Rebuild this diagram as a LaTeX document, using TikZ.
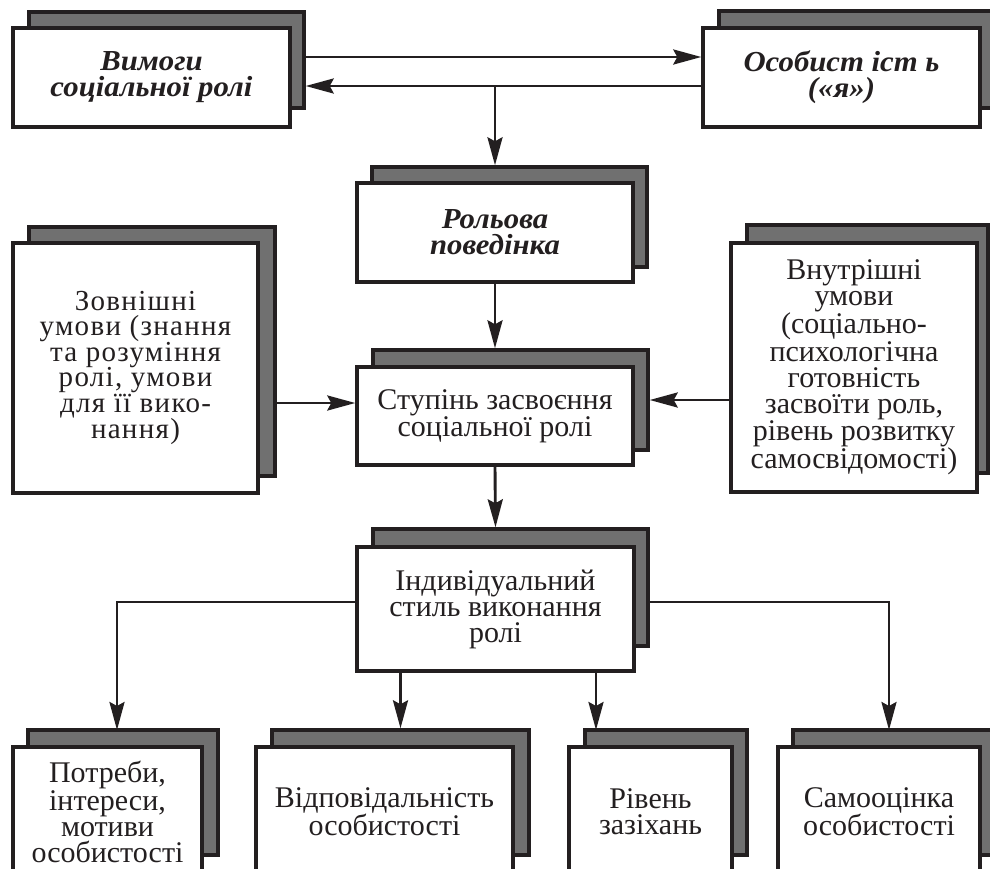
\documentclass[tikz,border=0pt]{standalone}
\usepackage{fontspec}
\setmainfont{Liberation Serif}
\newfontfamily\spacedfont[LetterSpace=4.5]{Liberation Serif}
\newfontfamily\widefont[FakeStretch=1.06]{Liberation Serif}
\usetikzlibrary{arrows.meta}
\definecolor{ink}{HTML}{231F20}
\definecolor{plategray}{RGB}{112,112,112}

\tikzset{
  card/.style={draw=ink, line width=3.4pt, fill=white, inner sep=0pt,
    align=center, text=ink, font=\fontsize{30}{26}\selectfont},
  slanted/.style={card, font=\fontsize{29}{26}\selectfont\widefont\bfseries\itshape},
  tracked/.style={card, font=\fontsize{29}{25.5}\selectfont\spacedfont},
  backplate/.style={draw=ink, line width=3.4pt, fill=plategray, inner sep=0pt},
  link/.style={draw=ink, line width=2.9pt,
    -{Stealth[length=28pt, width=15pt, inset=4pt]}},
}

\begin{document}
\begin{tikzpicture}[x=1pt, y=-1pt]
\clip (0,0) rectangle (990,868);
\fill[white] (0,0) rectangle (990,868);

% back plates
\node[backplate, minimum width=275pt, minimum height=96pt]  (vymS) at (166.5,60) {};
\node[backplate, minimum width=277pt, minimum height=97pt]  (osobS) at (857.5,59.5) {};
\node[backplate, minimum width=275pt, minimum height=100pt] (rolS) at (509.5,217) {};
\node[backplate, minimum width=246pt, minimum height=249pt] (zovS) at (152,351.5) {};
\node[backplate, minimum width=241pt, minimum height=248pt] (vnuS) at (867.5,349) {};
\node[backplate, minimum width=275pt, minimum height=100pt] (stuS) at (510.5,400) {};
\node[backplate, minimum width=275pt, minimum height=117pt] (indS) at (510.5,587.5) {};
\node[backplate, minimum width=190pt, minimum height=125pt] (potS) at (123,792.5) {};
\node[backplate, minimum width=257pt, minimum height=125pt] (vidS) at (400.5,792.5) {};
\node[backplate, minimum width=162pt, minimum height=125pt] (rivS) at (666,792.5) {};
\node[backplate, minimum width=207pt, minimum height=125pt] (samS) at (896.5,792.5) {};

% front cards
\node[slanted, minimum width=277pt, minimum height=99pt] (vym) at (151.5,77.5)
  {Вимоги\\соціальної ролі};
\node[slanted, minimum width=277pt, minimum height=99pt] (osob) at (841.5,77.5)
  {Особист іст ь\\(«я»)};
\node[slanted, minimum width=276pt, minimum height=99pt] (rol) at (495,232.5)
  {Рольова\\поведінка};
\node[tracked, minimum width=245pt, minimum height=250pt] (zov) at (135.5,368)
  {Зовнішні\\умови (знання\\та розуміння\\ролі, умови\\для її вико-\\нання)};
\node[card, minimum width=246pt, minimum height=249pt] (vnu) at (854,367.5)
  {Внутрішні\\умови\\(соціально-\\психологічна\\готовність\\засвоїти роль,\\рівень розвитку\\самосвідомості)};
\node[card, minimum width=276pt, minimum height=98pt] (stu) at (495,416)
  {Ступінь засвоєння\\соціальної ролі};
\node[card, minimum width=277pt, minimum height=124pt] (ind) at (495.5,609)
  {Індивідуальний\\стиль виконання\\ролі};
\node[card, minimum width=189pt, minimum height=130pt] (pot) at (107.5,812)
  {Потреби,\\інтереси,\\мотиви\\особистості};
\node[card, minimum width=257pt, minimum height=130pt] (vid) at (384.5,812)
  {Відповідальність\\особистості};
\node[card, minimum width=163pt, minimum height=130pt] (riv) at (650.5,812)
  {Рівень\\зазіхань};
\node[card, minimum width=202pt, minimum height=130pt] (sam) at (879,812)
  {Самооцінка\\особистості};

% rails and drop points of the connectors
\coordinate (railA) at (0,57);
\coordinate (railB) at (0,86);
\coordinate (railC) at (0,403);
\coordinate (railD) at (0,602);
\coordinate (dropP) at (117,730);
\coordinate (dropR) at (596,730);
\coordinate (dropS) at (889,730);

% connectors
\draw[link] (vymS.east |- railA) -- (osob.west |- railA);
\draw[link] (osob.west |- railB) -- (vymS.east |- railB);
\draw[link] (rol.north |- railB) -- (rol.north |- rolS.north);
\draw[link] (rol.south) -- (stu.north |- stuS.north);
\draw[link] (zovS.east |- railC) -- (stu.west |- railC);
\draw[link] (vnu.west |- stuS.east) -- (stuS.east);
\draw[link] (stu.south) -- (ind.north |- indS.north);
\draw[link] (ind.west |- railD) -| (dropP);
\draw[link] (indS.east |- railD) -| (dropS);
\draw[link] (vidS.north |- ind.south) -- (vidS.north);
\draw[link] (dropR |- ind.south) -- (dropR);
\end{tikzpicture}
\end{document}
